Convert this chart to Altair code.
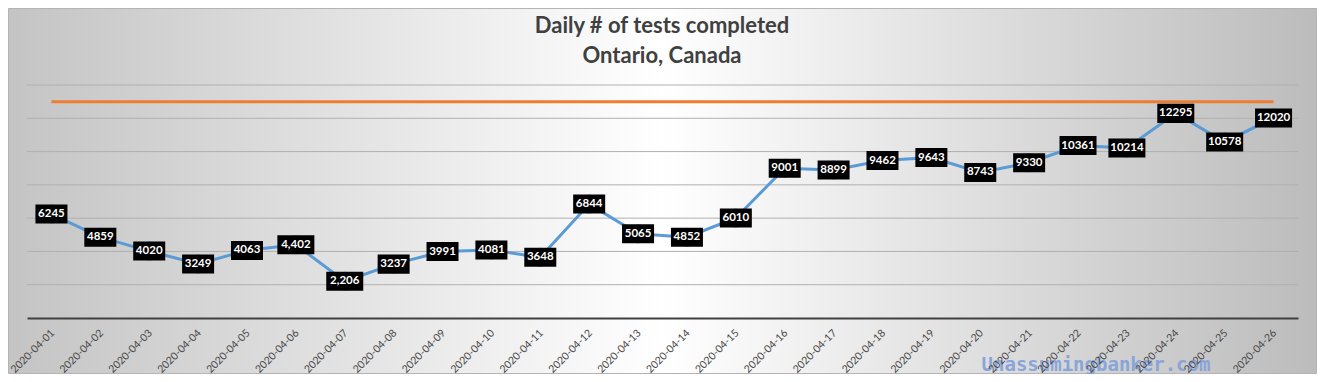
import altair as alt
import pandas as pd

dates = ["2020-04-01", "2020-04-02", "2020-04-03", "2020-04-04", "2020-04-05",
         "2020-04-06", "2020-04-07", "2020-04-08", "2020-04-09", "2020-04-10",
         "2020-04-11", "2020-04-12", "2020-04-13", "2020-04-14", "2020-04-15",
         "2020-04-16", "2020-04-17", "2020-04-18", "2020-04-19", "2020-04-20",
         "2020-04-21", "2020-04-22", "2020-04-23", "2020-04-24", "2020-04-25",
         "2020-04-26"]
tests = [6245, 4859, 4020, 3249, 4063, 4402, 2206, 3237, 3991, 4081, 3648, 6844,
         5065, 4852, 6010, 9001, 8899, 9462, 9643, 8743, 9330, 10361, 10214,
         12295, 10578, 12020]
labels = ["6245", "4859", "4020", "3249", "4063", "4,402", "2,206", "3237", "3991",
          "4081", "3648", "6844", "5065", "4852", "6010", "9001", "8899", "9462",
          "9643", "8743", "9330", "10361", "10214", "12295", "10578", "12020"]
grid_values = [2000, 4000, 6000, 8000, 10000, 12000, 14000]
target = 13000
title_lines = ["Daily # of tests completed", "Ontario, Canada"]
watermark_text = "Unassumingbanker.com"

df = pd.DataFrame({"date": dates, "tests": tests, "label": labels})
gdf = pd.DataFrame({"v": grid_values})
tdf = pd.DataFrame({"date": [dates[0], dates[-1]], "tests": [target, target]})

W, H = 1271, 233
PL, PT, PR, PB = 19, 77, 19, 56

xenc = alt.X("date:O", sort=dates,
             scale=alt.Scale(type="point", padding=0.5),
             axis=alt.Axis(title=None, labelAngle=-45, labelAlign="right",
                           labelBaseline="middle", labelFont="Lato",
                           labelFontSize=10.5, labelColor="#474747", ticks=False,
                           domainColor="#404040", domainWidth=2, labelPadding=13,
                           labelOffset=1, zindex=1, grid=False))
yscale = alt.Scale(domain=[0, 14000])
yenc = alt.Y("tests:Q", scale=yscale, axis=None)

bg = alt.Chart(pd.DataFrame({"a": [0]})).mark_rect(
    fill=alt.LinearGradient(
        gradient="linear", x1=0, y1=0, x2=1, y2=0,
        stops=[alt.GradientStop(offset=0, color="#c4c4c4"),
               alt.GradientStop(offset=0.5, color="#ffffff"),
               alt.GradientStop(offset=1, color="#bcbcbc")]),
    stroke="#b4b4b4", strokeWidth=1
).encode(x=alt.value(-PL + 0.5), x2=alt.value(W + PR - 0.5),
         y=alt.value(-PT + 0.5), y2=alt.value(H + PB - 0.5))

grid = alt.Chart(gdf).mark_rule(color="#b0b0b0", strokeWidth=1).encode(
    y=alt.Y("v:Q", scale=yscale, axis=None),
    x=alt.value(0), x2=alt.value(W))

base = alt.Chart(df).encode(x=xenc, y=yenc)

line = base.mark_line(color="#5B9BD5", strokeWidth=3)
dots = base.mark_circle(color="#5B9BD5", size=360, opacity=1)

box4 = base.transform_filter("length(datum.label) == 4").mark_point(
    shape="M-1,-0.594L1,-0.594L1,0.594L-1,0.594Z", filled=True,
    color="black", opacity=1, size=1024)
box5 = base.transform_filter("length(datum.label) == 5").mark_point(
    shape="M-1,-0.514L1,-0.514L1,0.514L-1,0.514Z", filled=True,
    color="black", opacity=1, size=1369)
text = base.mark_text(color="white", font="Lato", fontSize=11.5,
                      fontWeight="bold").encode(text="label:N")

target_line = alt.Chart(tdf).mark_line(color="#ED7D31", strokeWidth=3).encode(
    x=xenc, y=yenc)

title1 = alt.Chart(pd.DataFrame({"t": [title_lines[0]]})).mark_text(
    font="Lato", fontSize=22, fontWeight="bold", color="#404040",
    baseline="alphabetic").encode(text="t:N", x=alt.value(W / 2 - 0.5),
                                  y=alt.value(-52))
title2 = alt.Chart(pd.DataFrame({"t": [title_lines[1]]})).mark_text(
    font="Lato", fontSize=22, fontWeight="bold", color="#404040",
    baseline="alphabetic").encode(text="t:N", x=alt.value(W / 2 - 0.5),
                                  y=alt.value(-22.5))

watermark = alt.Chart(pd.DataFrame({"w": [watermark_text]})).mark_text(
    font="DejaVu Sans Mono", fontSize=19, fontWeight="bold", color="#86A3DA",
    opacity=0.95).encode(text="w:N", x=alt.value(1069), y=alt.value(280))

chart = alt.layer(bg, grid, target_line, line, dots, box4, box5, text,
                  title1, title2, watermark).properties(
    width=W, height=H,
    autosize=alt.AutoSizeParams(type="none"),
    padding={"left": PL, "top": PT, "right": PR, "bottom": PB},
).configure_view(stroke=None).configure(background="white")

chart.save("out.html", embed_options={"renderer": "svg", "actions": False})
